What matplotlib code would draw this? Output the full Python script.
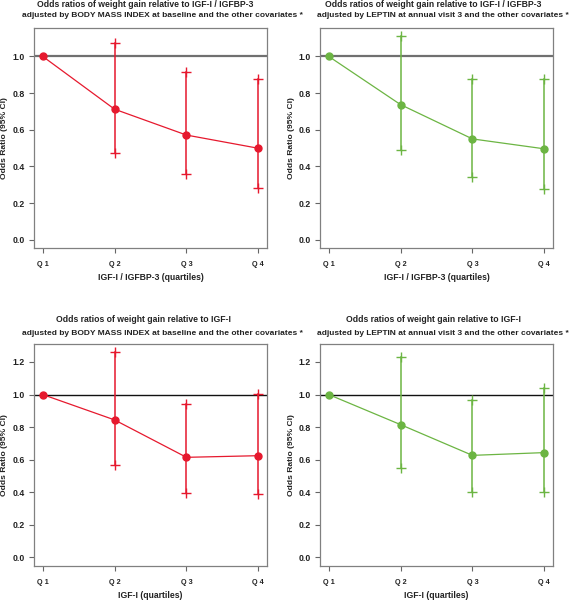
import matplotlib
matplotlib.use("Agg")
import matplotlib.pyplot as plt

plt.rcParams['font.family'] = ['Liberation Sans', 'DejaVu Sans']

quartiles = ["Q 1", "Q 2", "Q 3", "Q 4"]
x_pos = [1, 2, 3, 4]

# Top-left: IGF-I/IGFBP-3 adjusted by BMI
tl_or = [1.0, 0.712, 0.571, 0.499]
tl_lo = [1.0, 0.472, 0.360, 0.283]
tl_hi = [1.0, 1.072, 0.914, 0.879]
# Top-right: IGF-I/IGFBP-3 adjusted by LEPTIN
tr_or = [1.0, 0.737, 0.550, 0.496]
tr_lo = [1.0, 0.490, 0.342, 0.279]
tr_hi = [1.0, 1.110, 0.874, 0.877]
# Bottom-left: IGF-I adjusted by BMI
bl_or = [1.0, 0.844, 0.614, 0.624]
bl_lo = [1.0, 0.565, 0.396, 0.386]
bl_hi = [1.0, 1.261, 0.943, 1.004]
# Bottom-right: IGF-I adjusted by LEPTIN
br_or = [1.0, 0.815, 0.626, 0.643]
br_lo = [1.0, 0.546, 0.400, 0.398]
br_hi = [1.0, 1.230, 0.965, 1.039]

title1_top = "Odds ratios of weight gain relative to IGF-I / IGFBP-3"
title1_bot = "Odds ratios of weight gain relative to IGF-I"
title2_bmi = "adjusted by BODY MASS INDEX at baseline and the other covariates *"
title2_lep = "adjusted by LEPTIN at annual visit 3 and the other covariates *"
xlabel_top = "IGF-I / IGFBP-3 (quartiles)"
xlabel_bot = "IGF-I (quartiles)"
ylabel = "Odds Ratio (95% CI)"

RED = "#e6192e"
GREEN = "#6cb543"

W, H = 571, 600
fig = plt.figure(figsize=(W / 100, H / 100), dpi=100)


def px_axes(x0, y0, x1, y1):
    return fig.add_axes([x0 / W, 1 - y1 / H, (x1 - x0) / W, (y1 - y0) / H])


panels = [
    dict(box=(34, 28, 267, 248), orv=tl_or, lo=tl_lo, hi=tl_hi, col=RED,
         ylim=(-0.0444, 1.1544), yt=[0, 0.2, 0.4, 0.6, 0.8, 1.0],
         t1=title1_top, t2=title2_bmi, t1x=145, t2x=162, ty=(4.5, 15.5),
         xl=xlabel_top, xly=278, refc="#707070", refw=1.6),
    dict(box=(320, 28, 553, 248), orv=tr_or, lo=tr_lo, hi=tr_hi, col=GREEN,
         ylim=(-0.0444, 1.1544), yt=[0, 0.2, 0.4, 0.6, 0.8, 1.0],
         t1=title1_top, t2=title2_lep, t1x=433, t2x=443, ty=(4.5, 15.5),
         xl=xlabel_top, xly=278, refc="#707070", refw=1.6),
    dict(box=(34, 344, 267, 566), orv=bl_or, lo=bl_lo, hi=bl_hi, col=RED,
         ylim=(-0.054, 1.3105), yt=[0, 0.2, 0.4, 0.6, 0.8, 1.0, 1.2],
         t1=title1_bot, t2=title2_bmi, t1x=143, t2x=162, ty=(320, 333),
         xl=xlabel_bot, xly=595, refc="#111111", refw=1.0),
    dict(box=(320, 344, 553, 566), orv=br_or, lo=br_lo, hi=br_hi, col=GREEN,
         ylim=(-0.054, 1.3105), yt=[0, 0.2, 0.4, 0.6, 0.8, 1.0, 1.2],
         t1=title1_bot, t2=title2_lep, t1x=433, t2x=443, ty=(320, 333),
         xl=xlabel_bot, xly=595, refc="#111111", refw=1.0),
]

for p in panels:
    x0, y0, x1, y1 = p["box"]
    ax = px_axes(x0, y0, x1, y1)
    ax.set_xlim(0.88, 4.12)
    ax.set_ylim(*p["ylim"])
    ax.axhline(1.0, color=p["refc"], lw=p["refw"], zorder=1)
    # CI vertical segments
    for xi, l, h in zip(x_pos[1:], p["lo"][1:], p["hi"][1:]):
        ax.plot([xi, xi], [l, h], color=p["col"], lw=1.1, zorder=2)
    ax.plot(x_pos[1:], p["lo"][1:], ls="none", marker="+", ms=7.5, mew=1.0,
            color=p["col"], zorder=3)
    ax.plot(x_pos[1:], p["hi"][1:], ls="none", marker="+", ms=7.5, mew=1.0,
            color=p["col"], zorder=3)
    ax.plot(x_pos, p["orv"], color=p["col"], lw=0.9, marker="o", ms=5,
            zorder=4)
    ax.set_xticks(x_pos)
    ax.set_xticklabels(quartiles, fontsize=5.2, fontweight="bold",
                       color="#222222")
    ax.set_yticks(p["yt"])
    ax.set_yticklabels([f"{v:.1f}" for v in p["yt"]], fontsize=6.3,
                       fontweight="bold", color="#222222")
    ax.tick_params(axis="both", direction="out", length=3.5, width=0.8,
                   color="#666666")
    ax.tick_params(axis="x", pad=6)
    ax.tick_params(axis="y", pad=3)
    for s in ax.spines.values():
        s.set_color("#808080")
        s.set_linewidth(0.9)
    cx = (x0 + x1) / 2
    fig.text(cx / W, 1 - p["xly"] / H, p["xl"],
             ha="center", va="center", fontsize=6.2, fontweight="bold",
             color="#222222")
    fig.text((x0 - 29) / W, 1 - ((y0 + y1) / 2) / H, ylabel, rotation=90,
             ha="center", va="center", fontsize=6.1, fontweight="bold",
             color="#222222")
    fig.text(p["t1x"] / W, 1 - p["ty"][0] / H, p["t1"], ha="center",
             va="center", fontsize=6.2, fontweight="bold", color="#222222")
    fig.text(p["t2x"] / W, 1 - p["ty"][1] / H, p["t2"], ha="center",
             va="center", fontsize=6.0, fontweight="bold", color="#222222")

fig.savefig("out.png", dpi=100, facecolor="white")
